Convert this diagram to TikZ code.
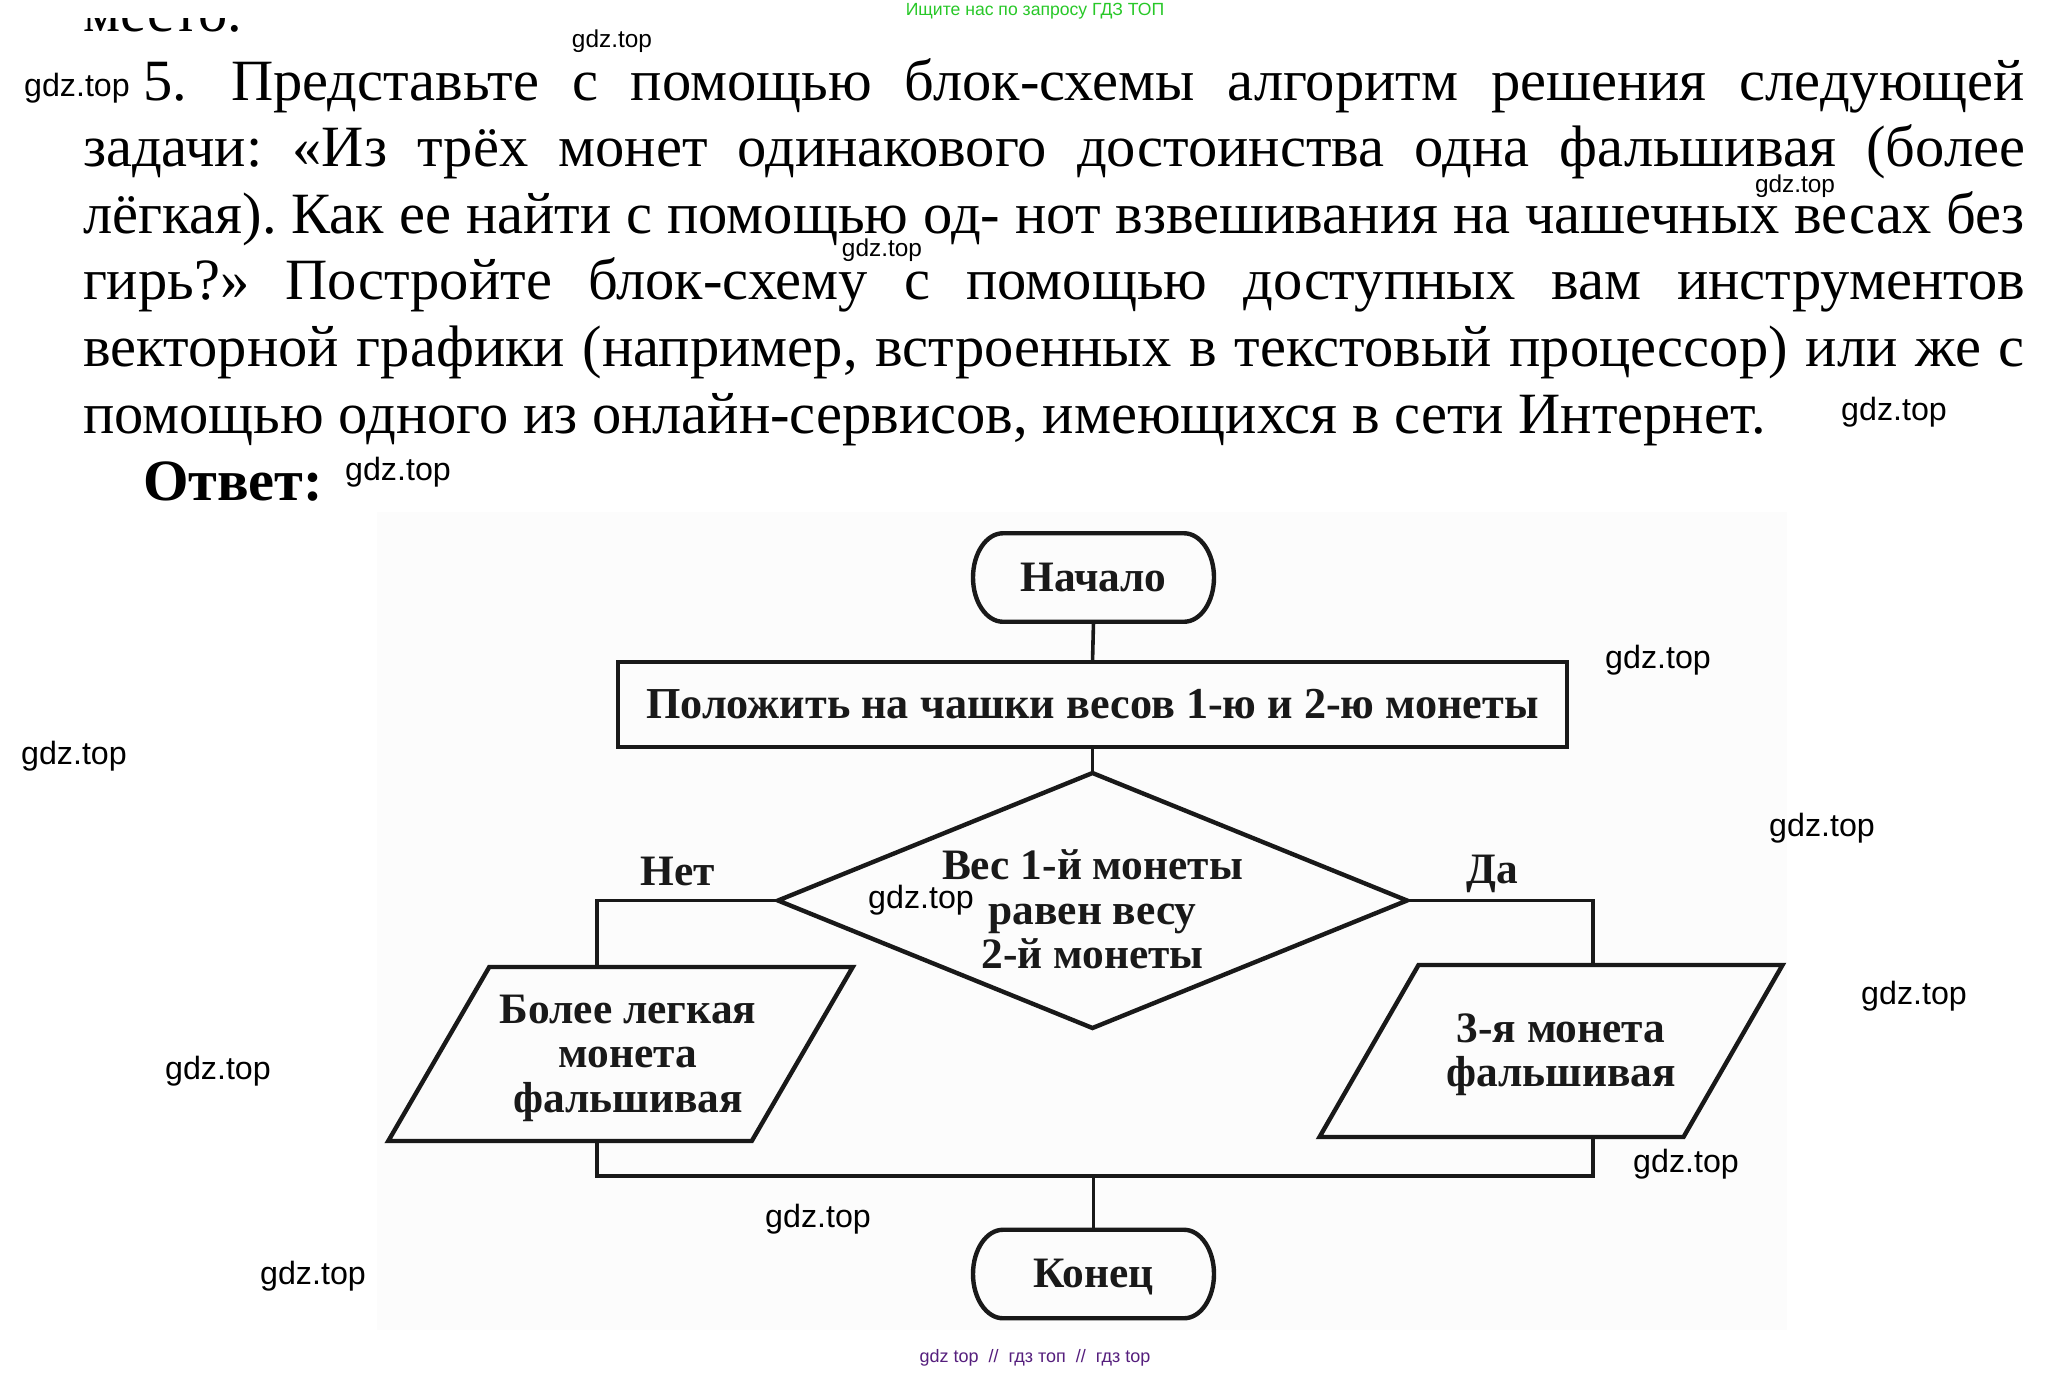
\documentclass[tikz,border=0pt]{standalone}
\usepackage{fontspec}
\setmainfont{Liberation Serif}
\newfontfamily\wmfont{Liberation Sans}
\usetikzlibrary{shapes.geometric}
\definecolor{hdrgreen}{RGB}{40,200,40}
\definecolor{ftpurple}{RGB}{85,30,125}
\definecolor{ink}{RGB}{25,25,25}
\frenchspacing
\begin{document}
\begin{tikzpicture}[x=0.5pt,y=-0.5pt,
  every node/.style={inner sep=0pt, outer sep=0pt},
  para/.style={anchor=base west, font=\fontsize{29.25}{33}\selectfont},
  wmbig/.style={font=\wmfont\fontsize{16.1}{18}\selectfont, text=black},
  wmsmall/.style={font=\wmfont\fontsize{12.2}{14}\selectfont, text=black},
  fc/.style={font=\bfseries\fontsize{21.7}{22.3}\selectfont, text=ink, align=center},
  shapeline/.style={draw=ink, line width=2.2pt},
  conn/.style={draw=ink, line width=1.8pt},
  terminal/.style={fc, minimum width=120.5pt, minimum height=44.25pt},
]
\useasboundingbox (0,0) rectangle (2071,1372);
\fill[white] (0,0) rectangle (2071,1372);

% text of the previous task, cut off at the top
\node[para] (prev) at (83,31) {место.};
\fill[white] (0,0) rectangle (2071,18);
\node[font=\wmfont\fontsize{8.8}{10}\selectfont, text=hdrgreen] (hdr) at (1035,11) {Ищите нас по запросу ГДЗ ТОП};

% task text
\node[para] (num) at (143,100) {5.};
\node[para] (l1) at (231,100) {\makebox[897pt][s]{Представьте с помощью блок-схемы алгоритм решения следующей}};
\node[para] (l2) at (83,166.6) {\makebox[971pt][s]{задачи: «Из трёх монет одинакового достоинства одна фальшивая (более}};
\node[para] (l3) at (83,233.2) {\makebox[971pt][s]{лёгкая). Как ее найти с помощью од- нот взвешивания на чашечных весах без}};
\node[para] (l4) at (83,299.8) {\makebox[971pt][s]{гирь?» Постройте блок-схему с помощью доступных вам инструментов}};
\node[para] (l5) at (83,366.4) {\makebox[971pt][s]{векторной графики (например, встроенных в текстовый процессор) или же с}};
\node[para] (l6) at (83,433) {помощью одного из онлайн-сервисов, имеющихся в сети Интернет.};
\node[para, font=\bfseries\fontsize{29.25}{33}\selectfont] (ans) at (143,500) {Ответ:};

% flowchart background
\fill[black!1] (377,512) rectangle (1787,1330);

% start
\node[terminal] (start) at (1093.5,577.5) {Начало};
\draw[shapeline] ([xshift=15pt]start.north west) -- ([xshift=-15pt]start.north east)
  arc[start angle=90, end angle=-90, x radius=15pt, y radius=22.125pt]
  -- ([xshift=15pt]start.south west)
  arc[start angle=270, end angle=90, x radius=15pt, y radius=22.125pt] -- cycle;

% process
\node[fc, font=\bfseries\fontsize{22.1}{22.3}\selectfont, shapeline, rectangle, minimum width=474.5pt, minimum height=42.5pt] (proc) at (1092.5,704.5) {Положить на чашки весов 1-ю и 2-ю монеты};

% decision
\node[shapeline, diamond, aspect=2.47, minimum width=314.5pt, minimum height=127.5pt] (dec) at (1092.5,900.5) {};
\node[fc] (dectext) at (1092.5,909.5) {Вес 1-й монеты\\равен весу\\2-й монеты};

% left output
\node[fc, minimum width=181.75pt, minimum height=87pt] (lp) at (628,1054) {\rule{0pt}{18.5pt}Более легкая\\монета\\фальшивая};
\draw[shapeline] ([xshift=21.5pt]lp.north west) -- ([xshift=21.5pt]lp.north east)
  -- ([xshift=-29pt]lp.south east) -- ([xshift=-29pt]lp.south west) -- cycle;

% right output
\node[fc, minimum width=182pt, minimum height=86pt] (rp) at (1561,1051) {\rule{0pt}{18pt}3-я монета\\фальшивая};
\draw[shapeline] ([xshift=19.75pt]rp.north west) -- ([xshift=19.75pt]rp.north east)
  -- ([xshift=-29.75pt]rp.south east) -- ([xshift=-29.75pt]rp.south west) -- cycle;

% end
\node[terminal] (end) at (1093.5,1274) {\rule{0pt}{17pt}Конец};
\draw[shapeline] ([xshift=15pt]end.north west) -- ([xshift=-15pt]end.north east)
  arc[start angle=90, end angle=-90, x radius=15pt, y radius=22.125pt]
  -- ([xshift=15pt]end.south west)
  arc[start angle=270, end angle=90, x radius=15pt, y radius=22.125pt] -- cycle;

% branch labels
\node[fc, anchor=base] (no) at (678,885) {Нет};
\node[fc, anchor=base] (yes) at (1492,883) {Да};

% connectors
\coordinate (lx) at (597,0);
\coordinate (rx) at (1593,0);
\coordinate (bottomy) at (0,1176);
\draw[conn] (start.south) -- (proc.north);
\draw[conn] (proc.south) -- (dec.north);
\draw[conn] (dec.west) -- (dec.west -| lx) -- (lx |- lp.north);
\draw[conn] (dec.east) -- (dec.east -| rx) -- (rx |- rp.north);
\draw[conn] (lx |- lp.south) -- (lx |- bottomy) -- (rx |- bottomy) -- (rx |- rp.south);
\draw[conn] (end.north |- bottomy) -- (end.north);

% watermarks
\node[wmsmall] (w1) at (612,41) {gdz.top};
\node[wmsmall] (w2) at (1795,186) {gdz.top};
\node[wmsmall] (w3) at (882,250) {gdz.top};
\node[wmbig] (w4) at (77,88) {gdz.top};
\node[wmbig] (w5) at (1894,412) {gdz.top};
\node[wmbig] (w6) at (398,472) {gdz.top};
\node[wmbig] (w7) at (1658,660) {gdz.top};
\node[wmbig] (w8) at (74,756) {gdz.top};
\node[wmbig] (w9) at (1822,828) {gdz.top};
\node[wmbig] (w10) at (921,900) {gdz.top};
\node[wmbig] (w11) at (1914,996) {gdz.top};
\node[wmbig] (w12) at (218,1071) {gdz.top};
\node[wmbig] (w13) at (1686,1164) {gdz.top};
\node[wmbig] (w14) at (818,1219) {gdz.top};
\node[wmbig] (w15) at (313,1276) {gdz.top};

% footer
\node[font=\wmfont\fontsize{9}{10}\selectfont, text=ftpurple] (ftr) at (1035,1358) {gdz top~~//~~гдз топ~~//~~гдз top};
\end{tikzpicture}
\end{document}
